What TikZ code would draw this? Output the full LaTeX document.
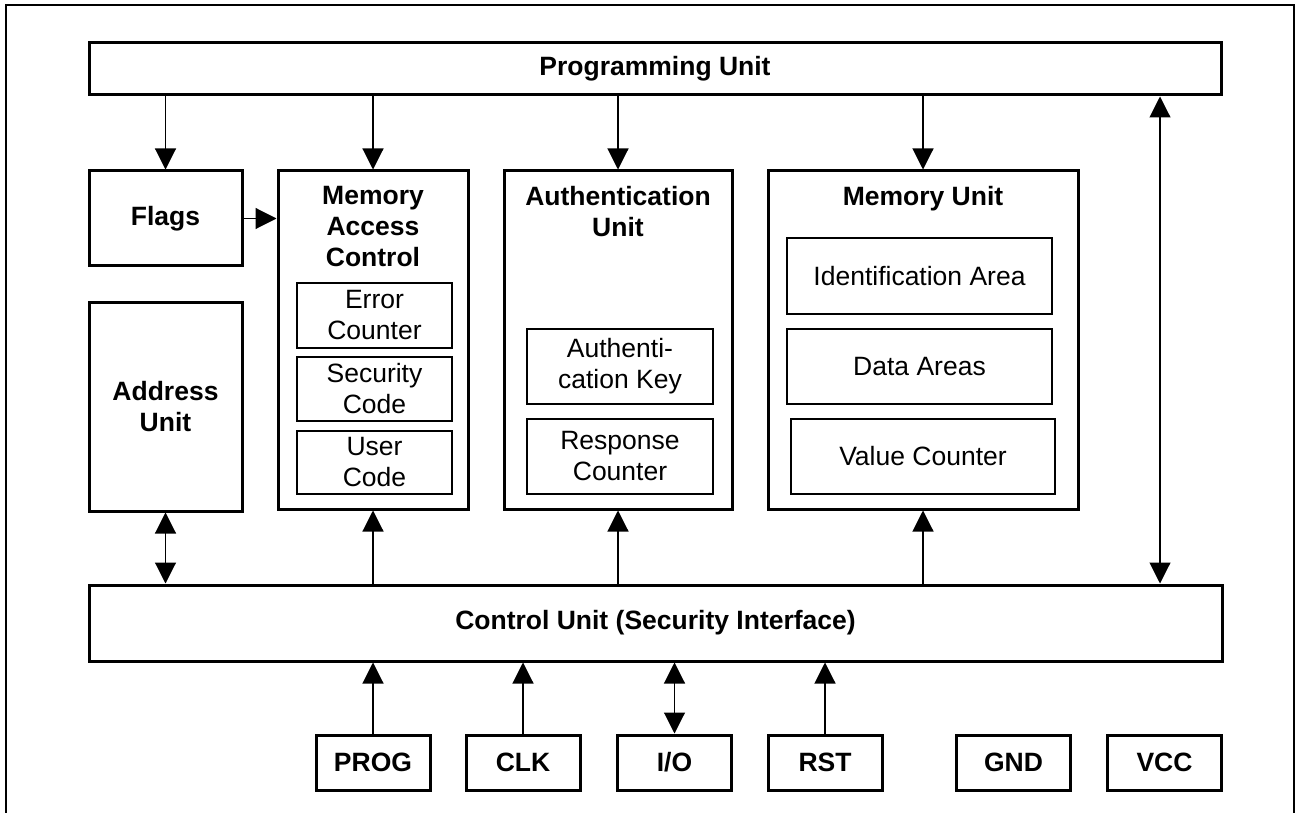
\documentclass[tikz,border=0pt]{standalone}
\usepackage{fontspec}
\setmainfont{Liberation Sans}
\usetikzlibrary{arrows.meta,calc}
\begin{document}
\begin{tikzpicture}[x=1pt,y=-1pt,line cap=butt,line join=miter,
		>={Triangle[width=21pt,length=21pt]},
		font=\fontsize{26.5}{31}\selectfont]
	\tikzset{unit/.style={draw,line width=3pt,inner sep=0pt,align=center,
			font=\fontsize{26.5}{31}\selectfont\bfseries},
		part/.style={draw,line width=2pt,inner sep=0pt,align=center},
		head/.style={anchor=north,inner sep=0pt,align=center,
			font=\fontsize{26.5}{31}\selectfont\bfseries},
		wire/.style={line width=1.1pt}
	}
	\useasboundingbox (0,0) rectangle (1302,813);
	\draw[line width=2.5pt] (6,813)--(6,5)--(1294,5)--(1294,813);
	% top and bottom units
	\node[unit,minimum width=1132pt,minimum height=52pt] (pu) at (655,69) {Programming Unit};
	\node[unit,minimum width=1133pt,minimum height=76pt] (cu) at (655.5,623) {Control Unit (Security Interface)};
	% left column
	\node[unit,minimum width=153pt,minimum height=95pt] (flags) at (165.5,218.5) {Flags};
	\node[unit,minimum width=153pt,minimum height=208pt] (addr) at (165.5,407) {Address\\Unit};
	% memory access control
	\node[unit,minimum width=190pt,minimum height=338pt] (mac) at (373,340) {};
	\node[head] (mac-t) at ($(mac.north)+(0,17)$) {Memory\\Access\\Control};
	\node[part,minimum width=155pt,minimum height=65pt] (err) at (374.5,315.5) {Error\\Counter};
	\node[part,minimum width=155pt,minimum height=64pt] (sec) at (374.5,389) {Security\\Code};
	\node[part,minimum width=155pt,minimum height=63pt] (usr) at (374.5,462.5) {User\\Code};
	% authentication
	\node[unit,minimum width=228pt,minimum height=338pt] (auth) at (618,340) {};
	\node[head] (auth-t) at ($(auth.north)+(0,17)$) {Authentication\\Unit};
	\node[part,minimum width=186pt,minimum height=75pt] (key) at (620,366.5) {Authenti-\\cation Key};
	\node[part,minimum width=186pt,minimum height=75pt] (resp) at (620,456.5) {Response\\Counter};
	% memory
	\node[unit,minimum width=310pt,minimum height=338pt] (mem) at (923,340) {};
	\node[head] (mem-t) at ($(mem.north)+(0,17)$) {Memory Unit};
	\node[part,minimum width=265pt,minimum height=76pt] (ida) at (919.5,276) {Identification Area};
	\node[part,minimum width=265pt,minimum height=75pt] (data) at (919.5,366.5) {Data Areas};
	\node[part,minimum width=264pt,minimum height=75pt] (val) at (923,456.5) {Value Counter};
	% pins
	\foreach \n/\t/\x in {prog/PROG/373,clk/CLK/523,io/I\slash O/674.5,rst/RST/825,gnd/GND/1013.5,vcc/VCC/1164.5}
		\node[unit,minimum width=114pt,minimum height=55pt] (\n) at (\x,762.5) {\t};
	\coordinate (bus) at (1160,0);
	% connectors
	\foreach \n in {flags,mac,auth,mem}
		\draw[wire,->] (\n.north |- pu.south) -- (\n.north);
	\draw[wire,->] (flags.east) -- (flags.east -| mac.west);
	\draw[wire,<->] (addr.south) -- (addr.south |- cu.north);
	\foreach \n in {mac,auth,mem}
		\draw[wire,->] (\n.south |- cu.north) -- (\n.south);
	\draw[wire,<->] (pu.south -| bus) -- (cu.north -| bus);
	\foreach \n in {prog,clk,rst}
		\draw[wire,->] (\n.north) -- (\n.north |- cu.south);
	\draw[wire,<->] (io.north) -- (io.north |- cu.south);
\end{tikzpicture}
\end{document}
